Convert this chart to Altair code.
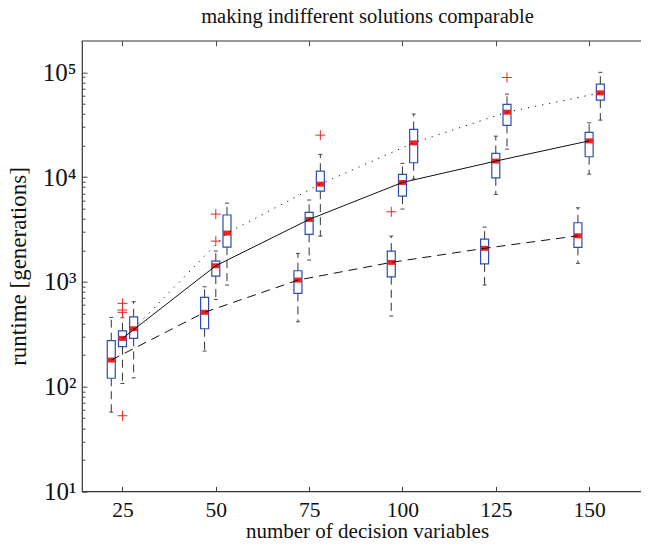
import altair as alt
import pandas as pd

sizes = [25, 50, 75, 100, 125, 150]

# series A (left boxes, dashed line)
a_med = [179, 511, 1038, 1531, 2085, 2749]
a_q1 = [120, 356, 774, 1116, 1479, 2128]
a_q3 = [274, 710, 1274, 1963, 2553, 3657]
a_lo = [57, 218, 415, 471, 931, 1499]
a_hi = [457, 895, 1866, 2729, 3326, 5080]

# series B (middle boxes, solid line)
b_med = [288, 1422, 3936, 8870, 14190, 22130]
b_q1 = [240, 1133, 2833, 6580, 9820, 15600]
b_q3 = [340, 1577, 4594, 10590, 16790, 26680]
b_lo = [107, 679, 1611, 4943, 6826, 10670]
b_hi = [453, 1965, 6029, 13490, 24540, 32880]

# series C (right boxes, dotted line)
c_med = [356, 2917, 8551, 21180, 41590, 63530]
c_q1 = [288, 2143, 7330, 13680, 31050, 54200]
c_q3 = [463, 4336, 11380, 28450, 49320, 76880]
c_lo = [121, 931, 2729, 9550, 18450, 34920]
c_hi = [645, 5637, 16440, 39850, 61800, 99800]

# outliers
out_series = ["B", "B", "B", "B", "B", "B", "C", "A", "C"]
out_size = [25, 25, 25, 25, 50, 50, 75, 100, 125]
out_val = [622, 537, 511, 52.6, 2443, 4426, 25100, 4657, 89130]

decades = [10, 100, 1000, 10000, 100000]
minor = [k * 10 ** e for e in range(1, 5) for k in range(2, 10)]

# layout / style
offsets = {"A": -3, "B": 0, "C": 3}
W, H = 570, 450.6
SERIF = "Liberation Serif, Times New Roman, serif"
BLUE = "#2b4db5"
RED = "#ee2424"
INK = "#111111"

series = {
    "A": (a_med, a_q1, a_q3, a_lo, a_hi),
    "B": (b_med, b_q1, b_q3, b_lo, b_hi),
    "C": (c_med, c_q1, c_q3, c_lo, c_hi),
}
rows = []
for s, (md, q1, q3, lo, hi) in series.items():
    for i, n in enumerate(sizes):
        rows.append(dict(series=s, n=n, xpos=n + offsets[s], med=md[i],
                         q1=q1[i], q3=q3[i], lo=lo[i], hi=hi[i]))
df = pd.DataFrame(rows)
dout = pd.DataFrame(dict(series=out_series, n=out_size, val=out_val))
dout["xpos"] = dout["n"] + dout["series"].map(offsets)

xs = alt.Scale(domain=[15.5, 165.5], nice=False, zero=False)
ys = alt.Scale(type="log", domain=[10, 200000], nice=False)

tick_common = dict(labels=False, domain=False, grid=False, ticks=True,
                   tickColor="#444", tickWidth=1)

x_lab = alt.Axis(orient="bottom", values=sizes, format="d", ticks=False, tickSize=0,
                 domain=False, grid=False, labelFont=SERIF, labelFontSize=21.5,
                 labelColor=INK, labelBaseline="alphabetic", labelPadding=25.5,
                 title="number of decision variables", titleFont=SERIF,
                 titleFontSize=21, titleFontWeight="normal", titleColor=INK,
                 titleBaseline="alphabetic", titleX=W / 2, titleY=46)
y_lab = alt.Axis(orient="left", values=decades,
                 labelExpr="'10' + ['\u2070','\u00b9','\u00b2','\u00b3','\u2074','\u2075','\u2076'][round(log(datum.value)/LN10)]",
                 ticks=False, tickSize=0, domain=False, grid=False,
                 labelFont=SERIF, labelFontSize=25, labelColor=INK, labelPadding=6,
                 title="runtime [generations]", titleFont=SERIF, titleFontSize=23,
                 titleFontWeight="normal", titleColor=INK, titleBaseline="alphabetic",
                 titleAngle=270, titleX=-56.5, titleY=H / 2)
x_in_bottom = alt.Axis(orient="top", offset=-H, values=sizes, tickSize=5, title=None, **tick_common)
# top inward ticks; also carries the chart title
x_in_top = alt.Axis(orient="bottom", offset=-H, values=sizes, tickSize=5,
                    title="making indifferent solutions comparable", titleFont=SERIF,
                    titleFontSize=20.5, titleFontWeight="normal", titleColor=INK,
                    titleBaseline="alphabetic", titleX=W / 2, titleY=-18,
                    **tick_common)
y_in_left = alt.Axis(orient="right", offset=-W, values=decades, tickSize=5, title=None, **tick_common)
y_in_left_minor = alt.Axis(orient="right", offset=-W, values=minor, tickSize=3, title=None, **tick_common)
y_in_right = alt.Axis(orient="left", offset=-W, values=decades, tickSize=5, title=None, **tick_common)

base = alt.Chart(df)

whisk_hi = base.mark_rule(color="#333", strokeWidth=1, strokeDash=[8, 5]).encode(
    x=alt.X("xpos:Q", scale=xs, axis=x_in_top),
    y=alt.Y("q3:Q", scale=ys, axis=y_in_left_minor),
    y2="hi:Q",
)
whisk_lo = base.mark_rule(color="#333", strokeWidth=1, strokeDash=[8, 5]).encode(
    x=alt.X("xpos:Q", scale=xs, axis=None),
    y=alt.Y("q1:Q", scale=ys, axis=y_in_right),
    y2="lo:Q",
)
caps_hi = base.mark_tick(orient="horizontal", size=4, thickness=1, color="#444", opacity=1).encode(
    x=alt.X("xpos:Q", scale=xs, axis=None),
    y=alt.Y("hi:Q", scale=ys, axis=None),
)
caps_lo = base.mark_tick(orient="horizontal", size=4, thickness=1, color="#444", opacity=1).encode(
    x=alt.X("xpos:Q", scale=xs, axis=None),
    y=alt.Y("lo:Q", scale=ys, axis=None),
)
boxes = base.mark_bar(filled=False, color=BLUE, strokeWidth=1.2, size=8).encode(
    x=alt.X("xpos:Q", scale=xs, axis=x_lab),
    y=alt.Y("q1:Q", scale=ys, axis=y_lab),
    y2="q3:Q",
)
medians = base.mark_tick(orient="horizontal", size=8, thickness=5, color=RED, opacity=1).encode(
    x=alt.X("xpos:Q", scale=xs, axis=x_in_bottom),
    y=alt.Y("med:Q", scale=ys, axis=y_in_left),
)
outliers = alt.Chart(dout).mark_point(
    shape="M-1,0L1,0M0,-1L0,1", size=100, filled=False, color=RED, strokeWidth=1, opacity=1
).encode(
    x=alt.X("xpos:Q", scale=xs, axis=None),
    y=alt.Y("val:Q", scale=ys, axis=None),
)

def line(s, dash):
    kw = dict(color=INK, strokeWidth=1)
    if dash:
        kw["strokeDash"] = dash
    return base.transform_filter(alt.datum.series == s).mark_line(**kw).encode(
        x=alt.X("xpos:Q", scale=xs, axis=None),
        y=alt.Y("med:Q", scale=ys, axis=None),
    )

lines = [line("A", [9, 6]), line("B", None), line("C", [1.2, 6])]

chart = alt.layer(
    whisk_hi, whisk_lo, caps_hi, caps_lo, boxes, medians, outliers, *lines
).resolve_axis(x="independent", y="independent").properties(
    width=W, height=H,
    padding={"left": 74, "top": 32.7, "right": -11, "bottom": 46.7},
    autosize=alt.AutoSizeParams(type="none"),
).configure_view(stroke="#333", strokeWidth=1.2)

chart.save("out.html", embed_options={"renderer": "svg", "actions": False})
